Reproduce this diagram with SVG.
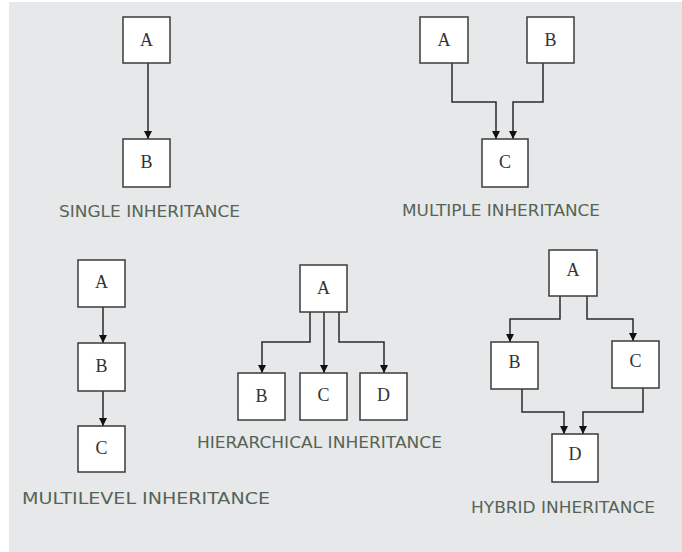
<svg xmlns="http://www.w3.org/2000/svg" width="682" height="552" viewBox="0 0 682 552">
<defs>
<style>
.bg{fill:#e7e8ea}
.box{fill:#fff;stroke:#3a3a3a;stroke-width:1.5}
.lt{font-family:"Liberation Serif","DejaVu Serif",serif;font-size:18px;fill:#333;text-anchor:middle;dominant-baseline:central}
.cap{font-family:"DejaVu Sans",Verdana,sans-serif;font-size:16.5px;fill:#556455;text-anchor:start;dominant-baseline:central}
.con{fill:none;stroke:#2a2a2a;stroke-width:1.5;marker-end:url(#ah)}
</style>
<marker id="ah" viewBox="0 0 10 10" refX="10" refY="5" markerWidth="8" markerHeight="8" markerUnits="userSpaceOnUse" orient="auto">
<path d="M0,0 L10,5 L0,10 Z" fill="#111"/>
</marker>
</defs>
<rect class="bg" x="9" y="2" width="673" height="550"/>

<g id="connectors">
<path class="con" d="M148,63 V139"/>
<path class="con" d="M452,63 V102 H496 V139"/>
<path class="con" d="M543,63 V102 H513 V139"/>
<path class="con" d="M103,307 V343"/>
<path class="con" d="M103,391 V426"/>
<path class="con" d="M310,312 V342 H262 V373"/>
<path class="con" d="M324,312 V373"/>
<path class="con" d="M339,312 V342 H384 V373"/>
<path class="con" d="M560,296 V319 H510 V342"/>
<path class="con" d="M587,296 V319 H633 V341"/>
<path class="con" d="M522,389 V412 H564 V434"/>
<path class="con" d="M643,388 V412 H583 V434"/>
</g>

<g id="single-A"><rect class="box" x="123" y="17" width="47" height="46"/><text class="lt" x="146.5" y="40">A</text></g>
<g id="single-B"><rect class="box" x="123" y="139" width="47" height="48"/><text class="lt" x="146.5" y="162">B</text></g>
<text class="cap" x="59" y="211" textLength="181" lengthAdjust="spacingAndGlyphs">SINGLE INHERITANCE</text>

<g id="multiple-A"><rect class="box" x="420" y="17" width="48" height="46"/><text class="lt" x="444" y="40">A</text></g>
<g id="multiple-B"><rect class="box" x="527" y="17" width="47" height="46"/><text class="lt" x="550.5" y="40">B</text></g>
<g id="multiple-C"><rect class="box" x="482" y="139" width="46" height="48"/><text class="lt" x="505" y="162">C</text></g>
<text class="cap" x="402" y="210" textLength="198" lengthAdjust="spacingAndGlyphs">MULTIPLE INHERITANCE</text>

<g id="multilevel-A"><rect class="box" x="78" y="260" width="47" height="47"/><text class="lt" x="101.5" y="282">A</text></g>
<g id="multilevel-B"><rect class="box" x="78" y="343" width="47" height="48"/><text class="lt" x="101.5" y="366">B</text></g>
<g id="multilevel-C"><rect class="box" x="78" y="426" width="47" height="46"/><text class="lt" x="101.5" y="448">C</text></g>
<text class="cap" x="22" y="498" textLength="248" lengthAdjust="spacingAndGlyphs">MULTILEVEL INHERITANCE</text>

<g id="hier-A"><rect class="box" x="300" y="265" width="47" height="47"/><text class="lt" x="323.5" y="288">A</text></g>
<g id="hier-B"><rect class="box" x="238" y="373" width="47" height="47"/><text class="lt" x="261.5" y="396">B</text></g>
<g id="hier-C"><rect class="box" x="300" y="373" width="47" height="47"/><text class="lt" x="323.5" y="395">C</text></g>
<g id="hier-D"><rect class="box" x="360" y="373" width="47" height="47"/><text class="lt" x="383.5" y="395">D</text></g>
<text class="cap" x="197" y="442" textLength="245" lengthAdjust="spacingAndGlyphs">HIERARCHICAL INHERITANCE</text>

<g id="hybrid-A"><rect class="box" x="549" y="250" width="48" height="46"/><text class="lt" x="573" y="270">A</text></g>
<g id="hybrid-B"><rect class="box" x="491" y="342" width="47" height="47"/><text class="lt" x="514.5" y="362">B</text></g>
<g id="hybrid-C"><rect class="box" x="612" y="341" width="47" height="47"/><text class="lt" x="635.5" y="361">C</text></g>
<g id="hybrid-D"><rect class="box" x="552" y="434" width="46" height="48"/><text class="lt" x="575" y="454">D</text></g>
<text class="cap" x="471" y="507" textLength="184" lengthAdjust="spacingAndGlyphs">HYBRID INHERITANCE</text>
</svg>
